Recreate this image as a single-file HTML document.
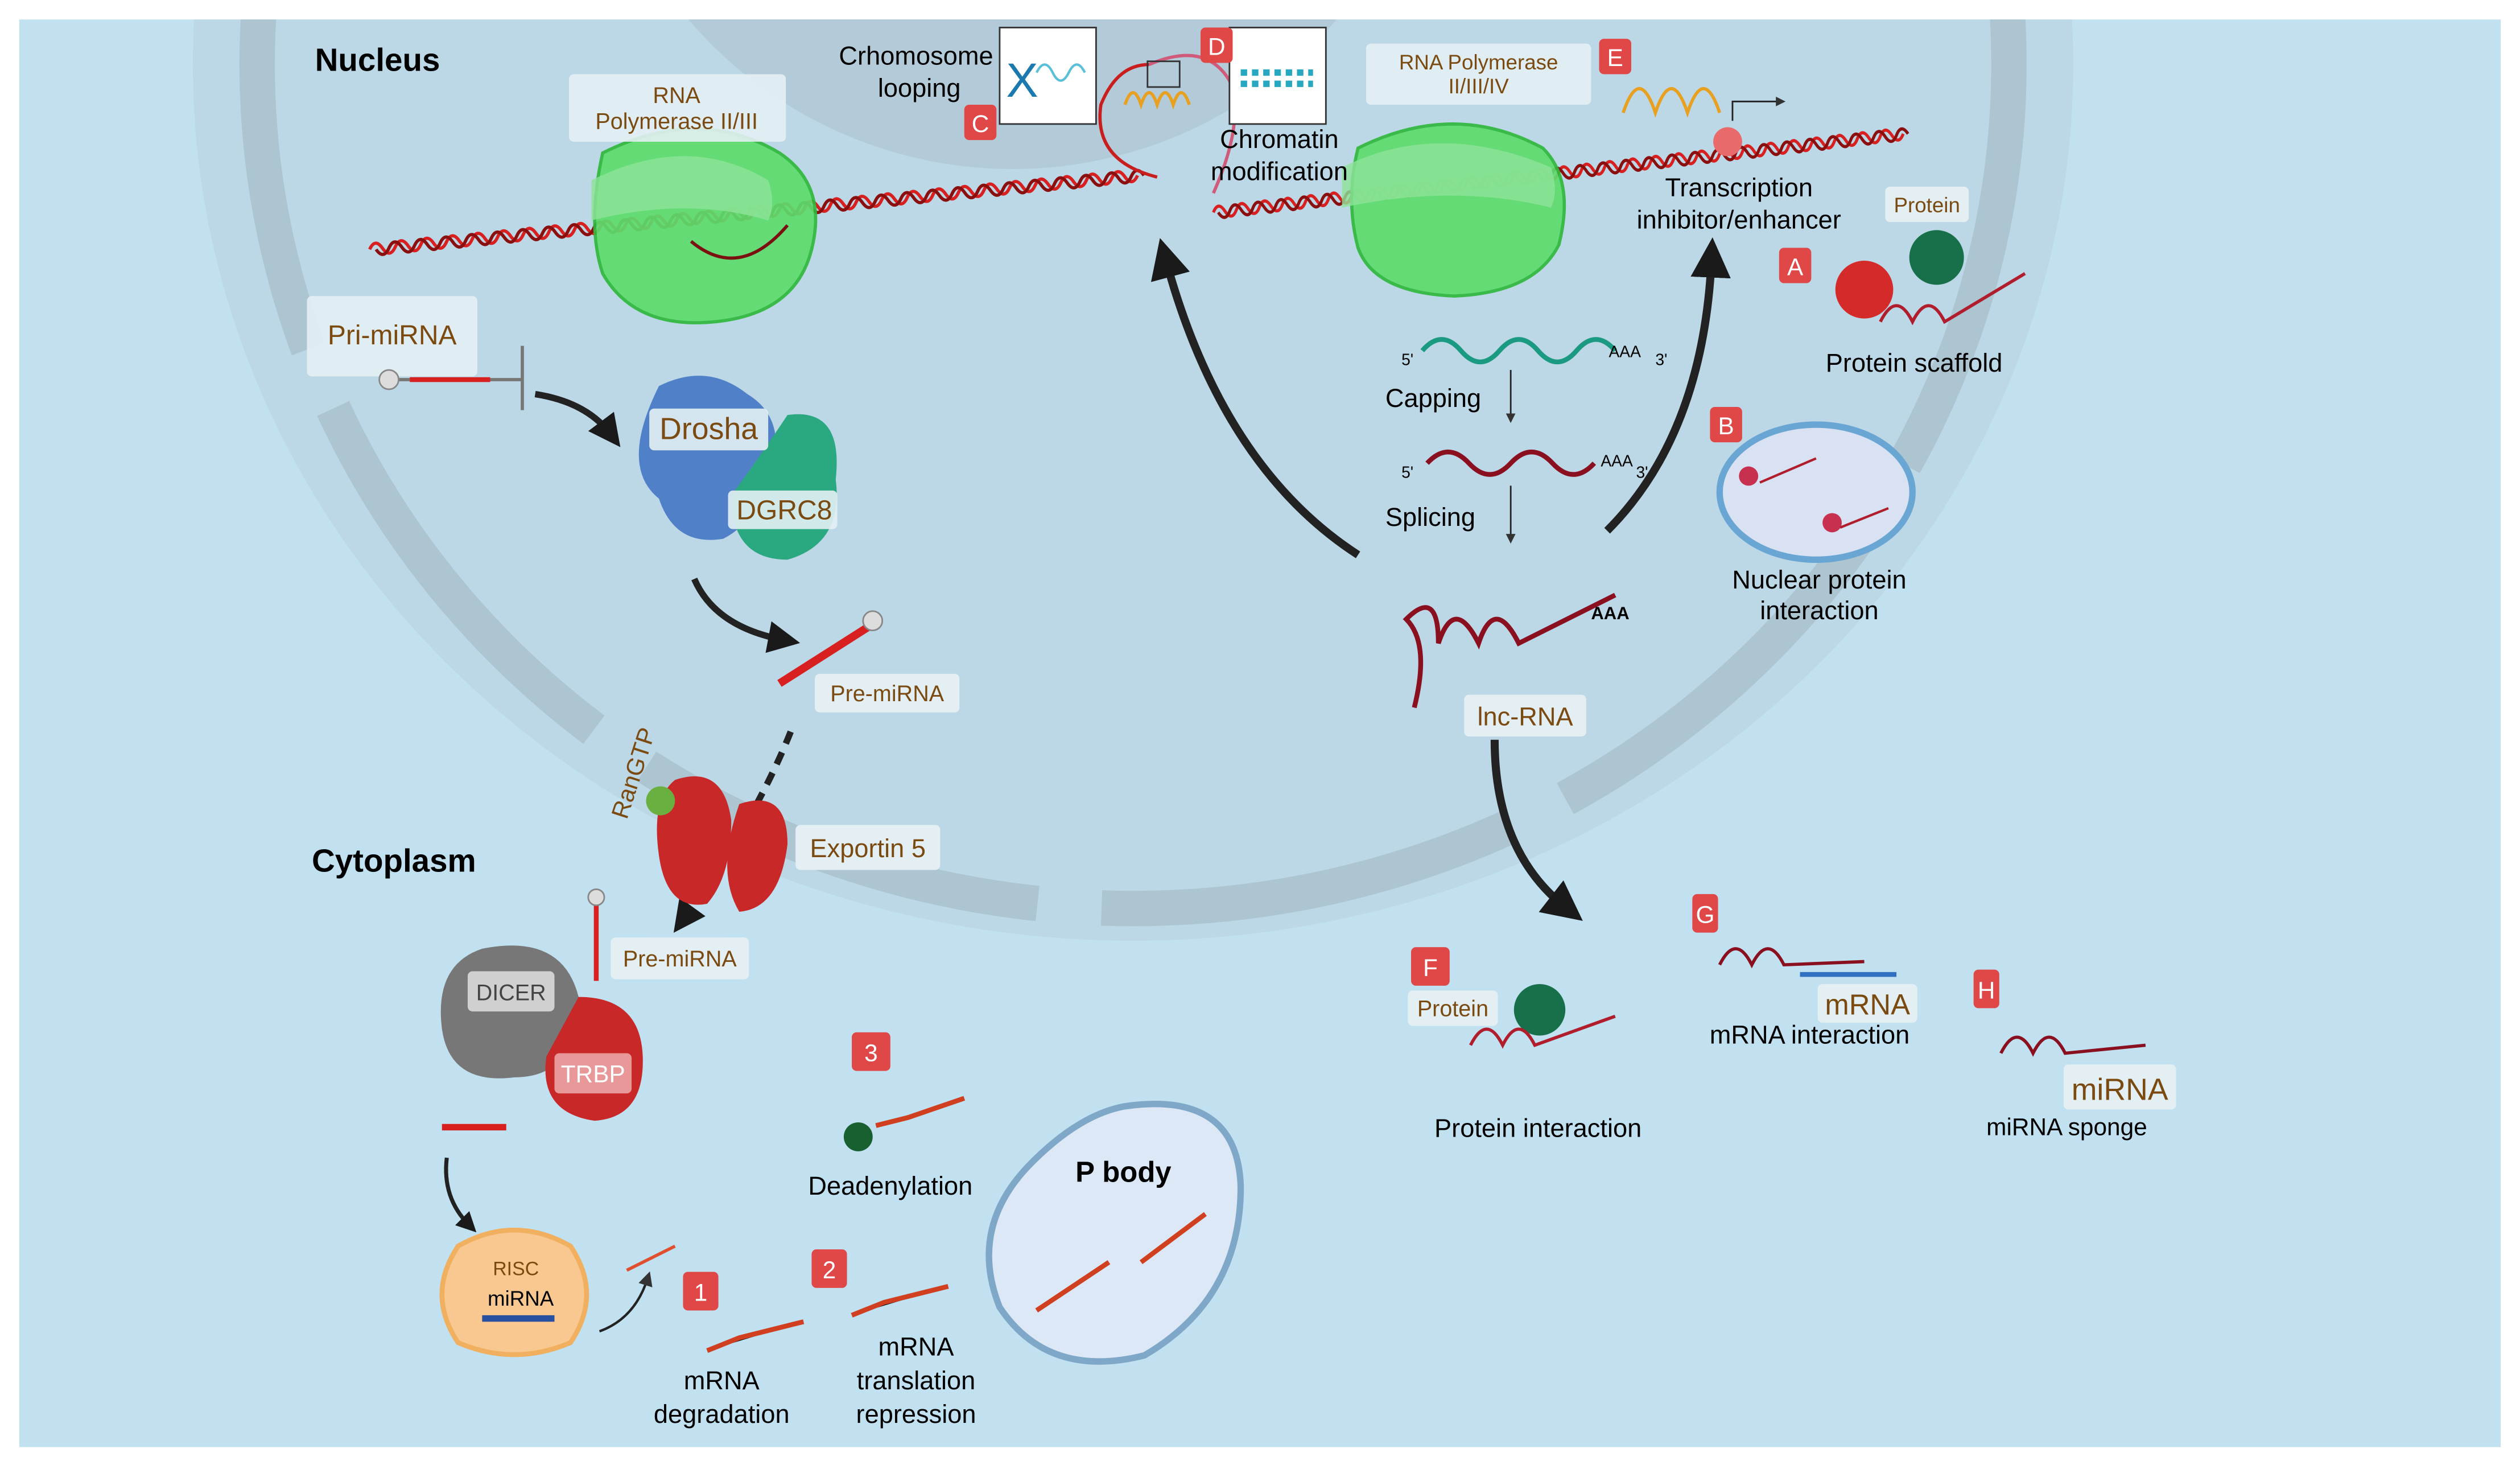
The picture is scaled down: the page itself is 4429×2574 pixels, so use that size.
<!DOCTYPE html>
<html><head><meta charset="utf-8"><style>
html,body{margin:0;padding:0;background:#fff}
svg{display:block}
text{font-family:"Liberation Sans",sans-serif}
</style></head><body>
<svg width="4429" height="2574" viewBox="0 0 1568 911" xmlns="http://www.w3.org/2000/svg">
<defs>
<marker id="ah" viewBox="0 0 10 10" refX="5" refY="5" markerWidth="5" markerHeight="5" orient="auto"><path d="M0,0L10,5L0,10z" fill="#1a1a1a"/></marker>
<marker id="as" viewBox="0 0 10 10" refX="5" refY="5" markerWidth="6" markerHeight="6" orient="auto"><path d="M0,0L10,5L0,10z" fill="#333"/></marker>
<path id="hx" d="M0,0 q4,-7 8,0 t8,0 t8,0 t8,0 t8,0 t8,0 t8,0 t8,0 t8,0 t8,0 t8,0 t8,0 t8,0 t8,0 t8,0 t8,0 t8,0 t8,0 t8,0 t8,0 t8,0 t8,0 t8,0 t8,0 t8,0 t8,0 t8,0 t8,0 t8,0 t8,0 t8,0 t8,0 t8,0 t8,0 t8,0 t8,0 t8,0 t8,0 t8,0 t8,0 t8,0 t8,0 t8,0 t8,0 t8,0 t8,0 t8,0 t8,0 t8,0 t8,0 t8,0 t8,0 t8,0 t8,0 t8,0 t8,0 t8,0 t8,0 t8,0 t8,0"/>
</defs>
<rect x="0" y="0" width="1568" height="911" fill="#fff"/>
<rect x="12" y="12" width="1544" height="888" fill="#c1e0f0"/>
<clipPath id="cl"><rect x="12" y="12" width="1544" height="888"/></clipPath>
<g clip-path="url(#cl)">
<ellipse cx="705" cy="40" rx="585" ry="545" fill="#bcd7e6"/>
<circle cx="630" cy="-160" r="265" fill="#b3cad9"/>
<ellipse cx="705" cy="40" rx="545" ry="525" fill="none" stroke="#a9bfcc" stroke-width="22" stroke-dasharray="260 40" opacity="0.8"/>
</g>
<text x="196" y="44" font-size="20" font-weight="bold">Nucleus</text>
<text x="194" y="542" font-size="20" font-weight="bold">Cytoplasm</text>
<!-- DNA -->
<g fill="none" stroke-width="2">
<use href="#hx" transform="translate(230,155) rotate(-5.5)" stroke="#d82020"/>
<use href="#hx" transform="translate(234,155) rotate(-5.5) scale(1,-1)" stroke="#8a1010"/>
<use href="#hx" transform="translate(755,132) rotate(-6.5) scale(0.9,1)" stroke="#d82020"/>
<use href="#hx" transform="translate(758,132) rotate(-6.5) scale(0.9,-1)" stroke="#8a1010"/>
<path d="M720,110 q-40,-10 -35,-45 q10,-25 30,-25" stroke="#c81e1e"/>
<path d="M715,40 q35,-15 50,10 q10,25 -10,70" stroke="#d05a7a"/>
</g>
<rect x="714" y="38" width="20" height="16" fill="none" stroke="#333"/>
<path d="M375,95 q60,-30 110,0 q30,20 20,60 q-10,40 -60,45 q-50,5 -70,-30 q-10,-30 0,-75z" fill="#5ddc6c" stroke="#2fb83c" stroke-width="2" opacity="0.92"/>
<path d="M368,112 q60,-30 110,0 q5,15 0,25 q-50,-15 -110,0z" fill="#8de39a" opacity="0.8"/>
<path d="M430,150 q30,25 60,-10" fill="none" stroke="#7a1010" stroke-width="2"/>
<rect x="354" y="46" width="135" height="42" rx="3" fill="#e3eff3" opacity="0.9"/>
<text x="421" y="64" font-size="14" fill="#7a4a10" text-anchor="middle">RNA</text>
<text x="421" y="80" font-size="14" fill="#7a4a10" text-anchor="middle">Polymerase II/III</text>
<path d="M845,92 q60,-30 115,0 q20,20 10,60 q-15,30 -65,32 q-50,-2 -60,-30 q-8,-30 0,-62z" fill="#5ddc6c" stroke="#2fb83c" stroke-width="2" opacity="0.92"/>
<path d="M835,104 q60,-30 130,0 q5,15 0,25 q-60,-15 -130,0z" fill="#8de39a" opacity="0.8"/>
<rect x="850" y="27" width="140" height="38" rx="3" fill="#e3eff3" opacity="0.9"/>
<text x="920" y="43" font-size="13" fill="#7a4a10" text-anchor="middle">RNA Polymerase</text>
<text x="920" y="58" font-size="13" fill="#7a4a10" text-anchor="middle">II/III/IV</text>
<text x="570" y="40" font-size="16" text-anchor="middle">Crhomosome</text>
<text x="572" y="60" font-size="16" text-anchor="middle">looping</text>
<rect x="622" y="17" width="60" height="60" fill="#fff" stroke="#333"/>
<text x="626" y="60" font-size="30" fill="#1a7ab0">X</text>
<path d="M645,45 q5,-10 10,0 t10,0 t10,0" fill="none" stroke="#5ac0d8" stroke-width="1.5"/>
<rect x="765" y="17" width="60" height="60" fill="#fff" stroke="#333"/>
<path d="M772,45 h45 M772,52 h45" stroke="#28a8c0" stroke-width="4" stroke-dasharray="4 3"/>
<text x="796" y="92" font-size="16" text-anchor="middle">Chromatin</text>
<text x="796" y="112" font-size="16" text-anchor="middle">modification</text>
<path d="M700,65 q5,-15 10,0 q5,-15 10,0 q5,-15 10,0 q5,-15 10,0" fill="none" stroke="#e8a020" stroke-width="2"/>
<path d="M1010,70 q10,-30 20,0 q10,-30 20,0 q10,-30 20,0" fill="none" stroke="#e8a020" stroke-width="2"/>
<path d="M1078,75 v-12 h30" fill="none" stroke="#222" marker-end="url(#as)"/>
<circle cx="1075" cy="88" r="9" fill="#e86a6a"/>
<text x="1082" y="122" font-size="16" text-anchor="middle">Transcription</text>
<text x="1082" y="142" font-size="16" text-anchor="middle">inhibitor/enhancer</text>
<g font-size="15" fill="#fff" text-anchor="middle">
<rect x="600" y="65" width="20" height="22" rx="3" fill="#e04848"/><text x="610" y="82">C</text>
<rect x="747" y="17" width="20" height="22" rx="3" fill="#e04848"/><text x="757" y="34">D</text>
<rect x="995" y="24" width="20" height="22" rx="3" fill="#e04848"/><text x="1005" y="41">E</text>
<rect x="1107" y="154" width="20" height="22" rx="3" fill="#e04848"/><text x="1117" y="171">A</text>
<rect x="1064" y="253" width="20" height="22" rx="3" fill="#e04848"/><text x="1074" y="270">B</text>
<rect x="878" y="589" width="24" height="24" rx="3" fill="#e04848"/><text x="890" y="607">F</text>
<rect x="1053" y="556" width="16" height="24" rx="3" fill="#e04848"/><text x="1061" y="574">G</text>
<rect x="1228" y="603" width="16" height="24" rx="3" fill="#e04848"/><text x="1236" y="621">H</text>
<rect x="530" y="642" width="24" height="24" rx="3" fill="#e04848"/><text x="542" y="660">3</text>
<rect x="425" y="791" width="22" height="24" rx="3" fill="#e04848"/><text x="436" y="809">1</text>
<rect x="505" y="777" width="22" height="24" rx="3" fill="#e04848"/><text x="516" y="795">2</text>
<rect x="652" y="743" width="24" height="24" rx="3" fill="#e04848"/><text x="664" y="761">4</text>
</g>
<rect x="1173" y="116" width="52" height="22" rx="3" fill="#e3eff3"/>
<text x="1199" y="132" font-size="13" fill="#7a4a10" text-anchor="middle">Protein</text>
<circle cx="1160" cy="180" r="18" fill="#d42a2a"/>
<circle cx="1205" cy="160" r="17" fill="#17704a"/>
<path d="M1170,200 q10,-20 20,0 q10,-20 20,0 l50,-30" fill="none" stroke="#b01e2e" stroke-width="2"/>
<text x="1191" y="231" font-size="16" text-anchor="middle">Protein scaffold</text>
<ellipse cx="1130" cy="306" rx="60" ry="42" fill="#d8e2f2" stroke="#6aa6d4" stroke-width="4"/>
<circle cx="1088" cy="296" r="6" fill="#c83050"/><circle cx="1140" cy="325" r="6" fill="#c83050"/>
<path d="M1095,300 l35,-15 M1145,328 l30,-12" stroke="#b01e2e" stroke-width="1.5"/>
<text x="1132" y="366" font-size="16" text-anchor="middle">Nuclear protein</text>
<text x="1132" y="385" font-size="16" text-anchor="middle">interaction</text>
<text x="872" y="227" font-size="10">5'</text>
<path d="M885,218 q12,-14 24,0 t24,0 t24,0 t24,0 t24,0" fill="none" stroke="#1a9a80" stroke-width="3"/>
<text x="1001" y="222" font-size="10">AAA</text><text x="1030" y="227" font-size="10">3'</text>
<text x="862" y="253" font-size="16">Capping</text>
<path d="M940,230 v30" stroke="#222" marker-end="url(#as)"/>
<text x="872" y="297" font-size="10">5'</text>
<path d="M888,288 q13,-14 26,0 t26,0 t26,0 t26,0" fill="none" stroke="#8a1020" stroke-width="3"/>
<text x="996" y="290" font-size="10">AAA</text><text x="1018" y="297" font-size="10">3'</text>
<text x="862" y="327" font-size="16">Splicing</text>
<path d="M940,302 v33" stroke="#222" marker-end="url(#as)"/>
<path d="M880,440 q10,-40 -5,-55 q20,-20 20,15 q10,-30 25,0 q10,-30 25,0 l60,-30" fill="none" stroke="#8a1020" stroke-width="3"/>
<text x="990" y="385" font-size="11" font-weight="bold">AAA</text>
<rect x="911" y="432" width="76" height="26" rx="3" fill="#e3eff3"/>
<text x="949" y="451" font-size="16" fill="#7a4a10" text-anchor="middle">lnc-RNA</text>
<path d="M845,345 Q760,290 725,160" fill="none" stroke="#222" stroke-width="5" marker-end="url(#ah)"/>
<path d="M1000,330 Q1060,270 1065,160" fill="none" stroke="#222" stroke-width="5" marker-end="url(#ah)"/>
<path d="M930,460 Q930,530 975,565" fill="none" stroke="#222" stroke-width="5" marker-end="url(#ah)"/>
<rect x="191" y="184" width="106" height="50" rx="3" fill="#e3eff3" opacity="0.9"/>
<text x="244" y="214" font-size="17" fill="#7a4a10" text-anchor="middle">Pri-miRNA</text>
<path d="M240,236 h85 M325,215 v40" stroke="#777" stroke-width="2"/>
<path d="M255,236 h50" stroke="#d82020" stroke-width="3"/>
<circle cx="242" cy="236" r="6" fill="#ddd" stroke="#888"/>
<path d="M333,245 Q365,250 380,270" fill="none" stroke="#222" stroke-width="4" marker-end="url(#ah)"/>
<path d="M410,240 q30,-15 55,5 q25,15 15,50 q-10,30 -30,40 q-30,5 -40,-25 q-25,-20 0,-70z" fill="#5080c8"/>
<path d="M490,258 q35,-5 30,40 q5,40 -30,50 q-35,0 -35,-40 q15,-20 35,-50z" fill="#2aa880"/>
<rect x="404" y="254" width="74" height="26" rx="3" fill="#e3eff3" opacity="0.9"/>
<text x="441" y="273" font-size="19" fill="#7a4a10" text-anchor="middle">Drosha</text>
<rect x="453" y="305" width="68" height="24" rx="3" fill="#e3eff3" opacity="0.9"/>
<text x="488" y="323" font-size="17" fill="#7a4a10" text-anchor="middle">DGRC8</text>
<path d="M432,360 Q445,390 488,398" fill="none" stroke="#222" stroke-width="4" marker-end="url(#ah)"/>
<path d="M485,425 L540,390" stroke="#d82020" stroke-width="5"/>
<circle cx="543" cy="386" r="6" fill="#ddd" stroke="#888"/>
<rect x="507" y="419" width="90" height="24" rx="3" fill="#e3eff3"/>
<text x="552" y="436" font-size="14" fill="#7a4a10" text-anchor="middle">Pre-miRNA</text>
<path d="M492,455 Q470,510 425,572" fill="none" stroke="#222" stroke-width="4" stroke-dasharray="8 6" marker-end="url(#ah)"/>
<path d="M420,485 q30,-10 35,25 q0,35 -15,52 q-25,5 -30,-30 q-5,-35 10,-47z" fill="#c82828"/>
<path d="M460,500 q30,-10 30,25 q-5,40 -30,42 q-15,-25 0,-67z" fill="#c82828"/>
<circle cx="411" cy="498" r="9" fill="#6ab040"/>
<text x="390" y="510" font-size="15" fill="#7a4a10" transform="rotate(-72 390 510)">RanGTP</text>
<rect x="495" y="513" width="90" height="28" rx="3" fill="#e3eff3"/>
<text x="540" y="533" font-size="16" fill="#7a4a10" text-anchor="middle">Exportin 5</text>
<path d="M300,590 q50,-10 60,30 q0,50 -40,50 q-40,5 -45,-30 q-5,-40 25,-50z" fill="#777"/>
<path d="M360,620 q40,0 40,40 q0,35 -30,37 q-35,-5 -30,-40z" fill="#c82828"/>
<path d="M371,560 v50" stroke="#d82020" stroke-width="3"/>
<circle cx="371" cy="558" r="5" fill="#ddd" stroke="#888"/>
<rect x="291" y="604" width="54" height="25" rx="3" fill="#d0d0d0"/>
<text x="318" y="622" font-size="14" fill="#444" text-anchor="middle">DICER</text>
<rect x="345" y="655" width="48" height="25" rx="3" fill="#e89898"/>
<text x="369" y="673" font-size="15" fill="#fff" text-anchor="middle">TRBP</text>
<rect x="380" y="583" width="86" height="26" rx="3" fill="#e3eff3"/>
<text x="423" y="601" font-size="14" fill="#7a4a10" text-anchor="middle">Pre-miRNA</text>
<path d="M275,701 h40" stroke="#d82020" stroke-width="4"/>
<path d="M278,720 Q275,745 292,762" fill="none" stroke="#222" stroke-width="2.5" marker-end="url(#ah)"/>
<path d="M285,775 q35,-20 70,0 q20,30 0,60 q-35,15 -70,0 q-20,-30 0,-60z" fill="#f8c890" stroke="#f0b060" stroke-width="3"/>
<text x="321" y="793" font-size="12" fill="#7a4a10" text-anchor="middle">RISC</text>
<text x="324" y="812" font-size="13" text-anchor="middle">miRNA</text>
<path d="M300,820 h45" stroke="#2850a0" stroke-width="4"/>
<path d="M373,828 Q395,820 403,795" fill="none" stroke="#222" stroke-width="1.5" marker-end="url(#as)"/>
<path d="M390,790 l30,-15" stroke="#e05030" stroke-width="2"/>
<path d="M440,840 l20,-8 l40,-10" stroke="#d04020" stroke-width="3"/>
<text x="449" y="864" font-size="16" text-anchor="middle">mRNA</text>
<text x="449" y="885" font-size="16" text-anchor="middle">degradation</text>
<path d="M530,818 l20,-8 l40,-10" stroke="#d04020" stroke-width="3"/>
<text x="570" y="843" font-size="16" text-anchor="middle">mRNA</text>
<text x="570" y="864" font-size="16" text-anchor="middle">translation</text>
<text x="570" y="885" font-size="16" text-anchor="middle">repression</text>
<circle cx="534" cy="707" r="9" fill="#186030"/>
<path d="M545,700 l20,-5 l35,-12" stroke="#d04020" stroke-width="3"/>
<text x="554" y="743" font-size="16" text-anchor="middle">Deadenylation</text>
<path d="M700,688 q70,-10 72,50 q0,70 -60,105 q-60,15 -90,-30 q-20,-50 20,-90 q30,-30 58,-35z" fill="#dce8f6" stroke="#7fa8c8" stroke-width="4"/>
<text x="699" y="735" font-size="18" font-weight="bold" text-anchor="middle">P body</text>
<path d="M645,815 l45,-30 M710,785 l40,-30" stroke="#d04020" stroke-width="3"/>
<rect x="876" y="616" width="56" height="22" rx="3" fill="#e3eff3"/>
<text x="904" y="632" font-size="14" fill="#7a4a10" text-anchor="middle">Protein</text>
<circle cx="958" cy="628" r="16" fill="#17704a"/>
<path d="M915,650 q10,-20 20,0 q10,-20 20,0 l50,-18" fill="none" stroke="#b01e2e" stroke-width="2"/>
<text x="957" y="707" font-size="16" text-anchor="middle">Protein interaction</text>
<path d="M1070,600 q10,-20 20,0 q10,-20 20,0 l50,-2" fill="none" stroke="#8a1020" stroke-width="2"/>
<path d="M1120,606 h60" stroke="#3070c0" stroke-width="3"/>
<rect x="1131" y="612" width="62" height="24" rx="3" fill="#e3eff3"/>
<text x="1162" y="631" font-size="18" fill="#7a4a10" text-anchor="middle">mRNA</text>
<text x="1126" y="649" font-size="16" text-anchor="middle">mRNA interaction</text>
<path d="M1245,655 q10,-20 20,0 q10,-20 20,0 l50,-5" fill="none" stroke="#8a1020" stroke-width="2"/>
<rect x="1284" y="662" width="70" height="28" rx="3" fill="#e3eff3"/>
<text x="1319" y="684" font-size="19" fill="#7a4a10" text-anchor="middle">miRNA</text>
<text x="1286" y="706" font-size="15" text-anchor="middle">miRNA sponge</text>
</svg>
</body></html>
